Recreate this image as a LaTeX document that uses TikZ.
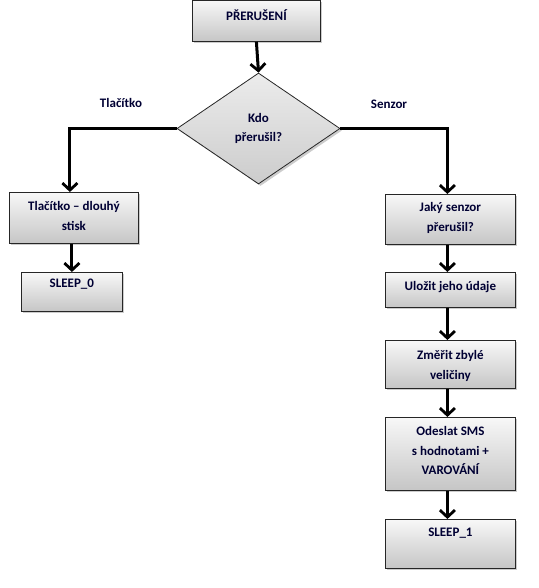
\documentclass[tikz,border=0pt]{standalone}
\usepackage{fontspec}
\setmainfont{Carlito}
\usetikzlibrary{arrows.meta,shapes.geometric,shadows,calc}
\begin{document}
\begin{tikzpicture}[x=1pt,y=-1pt,
  box/.style={draw=black!85, line width=0.8pt, top color=gray!6, bottom color=gray!45,
    drop shadow={shadow xshift=2pt, shadow yshift=-2pt, opacity=0.4},
    anchor=north west, inner sep=0pt},
  txt/.style={anchor=north, inner sep=0pt, align=center, font=\bfseries\fontsize{13}{19.7}\selectfont, text=black!80!blue},
  lbl/.style={inner sep=0pt, font=\bfseries\fontsize{13}{14}\selectfont, text=black!80!blue},
  arr/.style={line width=3pt, -{Straight Barb[length=7pt,width=15pt,line width=2.8pt]}},
  ln/.style={line width=3pt}]
\useasboundingbox (0,0) rectangle (538,588);
% top
\node[box, minimum width=128pt, minimum height=41pt] (p) at (192,0) {};
\node[txt] (pt) at ([yshift=-9pt]p.north) {PŘERUŠENÍ};
% diamond
\node[diamond, draw=black!85, line width=0.8pt, top color=gray!15, bottom color=gray!40,
  drop shadow={shadow xshift=2pt, shadow yshift=-2pt, opacity=0.4},
  minimum width=163pt, minimum height=111pt, inner sep=0pt, align=center,
  font=\bfseries\fontsize{13}{19.7}\selectfont, text=black!80!blue] (d) at (258.5,128.5) {Kdo\\přerušil?};
% left branch
\node[box, minimum width=129pt, minimum height=51pt] (tl) at (9,192) {};
\node[txt] (tlt) at ([yshift=-9pt]tl.north) {Tlačítko – dlouhý\\stisk};
\node[box, minimum width=101pt, minimum height=39pt] (s0) at (21,272) {};
\node[txt] (s0t) at ([yshift=-7pt]s0.north) {SLEEP\_0};
% right branch
\node[box, minimum width=130pt, minimum height=50pt] (js) at (385,194) {};
\node[txt] (jst) at ([yshift=-8pt]js.north) {Jaký senzor\\přerušil?};
\node[box, minimum width=130pt, minimum height=35pt] (ul) at (385,272) {};
\node[txt] (ult) at ([yshift=-9pt]ul.north) {Uložit jeho údaje};
\node[box, minimum width=130pt, minimum height=48pt] (zm) at (385,340) {};
\node[txt] (zmt) at ([yshift=-10pt]zm.north) {Změřit zbylé\\veličiny};
\node[box, minimum width=130pt, minimum height=73pt] (od) at (385,417) {};
\node[txt] (odt) at ([yshift=-9pt]od.north) {Odeslat SMS\\s hodnotami +\\VAROVÁNÍ};
\node[box, minimum width=130pt, minimum height=49pt] (s1) at (385,519) {};
\node[txt] (s1t) at ([yshift=-9pt]s1.north) {SLEEP\_1};
% labels
\node[lbl] (la) at (121,103) {Tlačítko};
\node[lbl] (lb) at (389,104) {Senzor};
% connectors
\draw[arr] (p.south) -- (d.north);
\draw[arr] (d.west) -| ([xshift=-4pt]tl.north);
\draw[arr] (d.east) -| ([xshift=-3pt]js.north);
\draw[arr] (s0.north |- tl.south) -- (s0.north);
\draw[arr] ([xshift=-3pt]js.south) -- ([xshift=-3pt]ul.north);
\draw[arr] ([xshift=-3pt]ul.south) -- ([xshift=-3pt]zm.north);
\draw[arr] ([xshift=-3pt]zm.south) -- ([xshift=-3pt]od.north);
\draw[arr] ([xshift=-3pt]od.south) -- ([xshift=-3pt]s1.north);
\end{tikzpicture}
\end{document}
